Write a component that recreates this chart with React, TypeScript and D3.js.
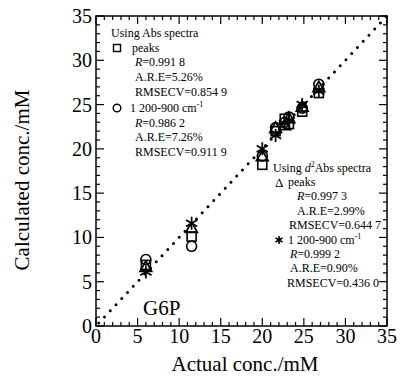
import React from 'react';
import * as d3 from 'd3';

// actual concentrations (mM)
const actual = [6, 11.5, 20, 21.6, 22.7, 23.2, 24.8, 26.8];
// Abs spectra, peaks (squares)
const absPeaks = [6.9, 10.1, 18.2, 22.0, 23.4, 22.8, 24.2, 26.3];
// Abs spectra, 1 200-900 cm-1 (circles)
const absRange = [7.5, 9.0, 19.2, 22.4, 23.0, 23.6, 24.6, 27.3];
// d2 Abs spectra, peaks (triangles)
const d2Peaks = [6.6, 11.0, 19.1, 22.3, 22.6, 23.4, 24.7, 26.9];
// d2 Abs spectra, 1 200-900 cm-1 (asterisks)
const d2Range = [6.1, 11.6, 20.0, 21.5, 22.9, 23.2, 25.0, 26.5];

const tickValues = [0, 5, 10, 15, 20, 25, 30, 35];

const W = 400;
const H = 376;
const m = { left: 96, top: 16, right: 387, bottom: 326 };
const font = '"Liberation Serif", "Times New Roman", serif';

const Star = ({ x, y, r = 6.5, w = 1.7 }: { x: number; y: number; r?: number; w?: number }) => {
  const arms = [90, 30, 150].map((a) => {
    const rad = (a * Math.PI) / 180;
    const dx = Math.cos(rad) * r;
    const dy = Math.sin(rad) * r;
    return `M${x - dx},${y - dy}L${x + dx},${y + dy}`;
  });
  return <path d={arms.join('')} stroke="#000" strokeWidth={w} fill="none" />;
};

const Tri = ({ x, y, s = 6.5 }: { x: number; y: number; s?: number }) => (
  <path
    d={`M${x},${y - s}L${x + s * 0.9},${y + s * 0.6}L${x - s * 0.9},${y + s * 0.6}Z`}
    stroke="#000"
    strokeWidth={1.7}
    fill="none"
  />
);

export default function App() {
  const x = d3.scaleLinear().domain([0, 35]).range([m.left, m.right]);
  const y = d3.scaleLinear().domain([0, 35]).range([m.bottom, m.top]);
  const minor = d3.range(0, 36, 1);

  const lcy = [33, 48, 62, 77, 92, 108, 123, 137, 152];
  const rcy = [168, 182, 196, 211, 225, 240, 254, 268, 283];
  const fs = 12;

  return (
    <svg
      width={W}
      height={H}
      style={{ position: 'absolute', left: 0, top: 0, background: '#fff' }}
      fontFamily={font}
    >
      {/* dotted diagonal y = x */}
      <line
        x1={x(0)}
        y1={y(0)}
        x2={x(35)}
        y2={y(35)}
        stroke="#000"
        strokeWidth={3}
        strokeLinecap="round"
        strokeDasharray="0 8.4"
        strokeDashoffset={-4}
      />

      {/* ticks on all sides */}
      {minor.map((v) => {
        const len = v % 5 === 0 ? 8 : 4;
        return (
          <g key={v} stroke="#000" strokeWidth={1.2}>
            <line x1={x(v)} x2={x(v)} y1={m.bottom} y2={m.bottom - len} />
            <line x1={x(v)} x2={x(v)} y1={m.top} y2={m.top + len} />
            <line y1={y(v)} y2={y(v)} x1={m.left} x2={m.left + len} />
            <line y1={y(v)} y2={y(v)} x1={m.right} x2={m.right - len} />
          </g>
        );
      })}
      <rect
        x={m.left}
        y={m.top}
        width={m.right - m.left}
        height={m.bottom - m.top}
        fill="none"
        stroke="#000"
        strokeWidth={1.5}
      />

      {tickValues.map((v) => (
        <text key={'x' + v} x={x(v)} y={343} fontSize={20} textAnchor="middle">
          {v}
        </text>
      ))}
      {tickValues.map((v) => (
        <text key={'y' + v} x={92} y={y(v)} dy="0.35em" fontSize={20} textAnchor="end">
          {v}
        </text>
      ))}

      <text x={245} y={371} fontSize={21} textAnchor="middle">
        Actual conc./mM
      </text>
      <text
        transform={`translate(22,180) rotate(-90)`}
        dy="0.35em"
        fontSize={21}
        textAnchor="middle"
      >
        Calculated conc./mM
      </text>
      <text x={143} y={315} fontSize={21}>
        G6P
      </text>

      {/* data */}
      {actual.map((a, i) => (
        <rect
          key={'s' + i}
          x={x(a) - 4.5}
          y={y(absPeaks[i]) - 4.5}
          width={9}
          height={9}
          fill="none"
          stroke="#000"
          strokeWidth={1.6}
        />
      ))}
      {actual.map((a, i) => (
        <circle
          key={'c' + i}
          cx={x(a)}
          cy={y(absRange[i])}
          r={5}
          fill="none"
          stroke="#000"
          strokeWidth={1.6}
        />
      ))}
      {actual.map((a, i) => (
        <Tri key={'t' + i} x={x(a)} y={y(d2Peaks[i])} />
      ))}
      {actual.map((a, i) => (
        <Star key={'a' + i} x={x(a)} y={y(d2Range[i])} />
      ))}

      {/* left legend: Abs spectra */}
      <g fontSize={fs}>
        <text x={111} y={lcy[0]} dy="0.35em">Using Abs spectra</text>
        <rect x={113.5} y={lcy[1] - 3.5} width={7} height={7} fill="none" stroke="#000" strokeWidth={1.4} />
        <text x={132} y={lcy[1]} dy="0.35em">peaks</text>
        <text x={135} y={lcy[2]} dy="0.35em">
          <tspan fontStyle="italic">R</tspan>=0.991 8
        </text>
        <text x={135} y={lcy[3]} dy="0.35em">A.R.E=5.26%</text>
        <text x={135} y={lcy[4]} dy="0.35em">RMSECV=0.854 9</text>
        <circle cx={117} cy={lcy[5]} r={3.8} fill="none" stroke="#000" strokeWidth={1.4} />
        <text x={130} y={lcy[5]} dy="0.35em">
          1 200-900 cm<tspan dy="-5" fontSize={8}>-1</tspan>
        </text>
        <text x={135} y={lcy[6]} dy="0.35em">
          <tspan fontStyle="italic">R</tspan>=0.986 2
        </text>
        <text x={135} y={lcy[7]} dy="0.35em">A.R.E=7.26%</text>
        <text x={135} y={lcy[8]} dy="0.35em">RMSECV=0.911 9</text>
      </g>

      {/* right legend: d2 Abs spectra */}
      <g fontSize={fs}>
        <text x={273} y={rcy[0]} dy="0.35em">
          Using <tspan fontStyle="italic">d</tspan>
          <tspan dy="-5" fontSize={8}>2</tspan>
          <tspan dy="5">Abs spectra</tspan>
        </text>
        <text x={275} y={rcy[1]} dy="0.35em" fontSize={13}>Δ</text>
        <text x={288} y={rcy[1]} dy="0.35em">peaks</text>
        <text x={297} y={rcy[2]} dy="0.35em">
          <tspan fontStyle="italic">R</tspan>=0.997 3
        </text>
        <text x={297} y={rcy[3]} dy="0.35em">A.R.E=2.99%</text>
        <text x={289} y={rcy[4]} dy="0.35em">RMSECV=0.644 7</text>
        <Star x={279} y={rcy[5]} r={4} w={1.6} />
        <text x={288} y={rcy[5]} dy="0.35em">
          1 200-900 cm<tspan dy="-5" fontSize={8}>-1</tspan>
        </text>
        <text x={290} y={rcy[6]} dy="0.35em">
          <tspan fontStyle="italic">R</tspan>=0.999 2
        </text>
        <text x={290} y={rcy[7]} dy="0.35em">A.R.E=0.90%</text>
        <text x={287} y={rcy[8]} dy="0.35em">RMSECV=0.436 0</text>
      </g>
    </svg>
  );
}
